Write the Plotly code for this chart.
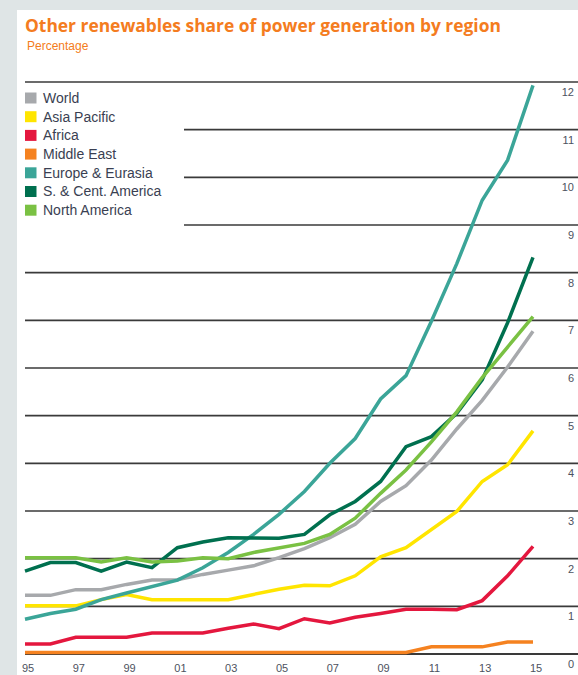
import plotly.graph_objects as go

# ---------------- data ----------------
years = list(range(1995, 2016))
tick_years = list(range(1995, 2016, 2))
tick_labels = ["95", "97", "99", "01", "03", "05", "07", "09", "11", "13", "15"]
y_ticks = list(range(0, 13))

series_names = ["World", "Asia Pacific", "Africa", "Middle East",
                "Europe & Eurasia", "S. & Cent. America", "North America"]
series_colors = ["#a7a9ac", "#ffe500", "#e4173e", "#f58220",
                 "#3ba598", "#00704f", "#7ac143"]

world = [1.23, 1.23, 1.35, 1.35, 1.46, 1.55, 1.56, 1.67, 1.76, 1.85, 2.02,
         2.21, 2.44, 2.72, 3.20, 3.53, 4.07, 4.72, 5.32, 6.02, 6.77]
asia_pacific = [1.01, 1.01, 1.01, 1.14, 1.25, 1.14, 1.14, 1.14, 1.14, 1.25, 1.36,
                1.44, 1.43, 1.64, 2.04, 2.23, 2.61, 2.99, 3.62, 3.97, 4.68]
africa = [0.21, 0.21, 0.35, 0.35, 0.35, 0.44, 0.44, 0.44, 0.54, 0.63, 0.53,
          0.74, 0.65, 0.77, 0.85, 0.94, 0.94, 0.93, 1.12, 1.64, 2.26]
middle_east = [0.03, 0.03, 0.03, 0.03, 0.03, 0.03, 0.03, 0.03, 0.03, 0.03, 0.03,
               0.03, 0.03, 0.03, 0.03, 0.03, 0.15, 0.15, 0.15, 0.25, 0.25]
europe_eurasia = [0.73, 0.85, 0.94, 1.14, 1.28, 1.42, 1.55, 1.81, 2.13, 2.51, 2.93,
                  3.41, 4.00, 4.52, 5.35, 5.84, 6.98, 8.19, 9.52, 10.36, 11.93]
s_cent_america = [1.74, 1.92, 1.92, 1.74, 1.93, 1.81, 2.23, 2.35, 2.44, 2.44, 2.43,
                  2.51, 2.92, 3.20, 3.62, 4.35, 4.56, 5.05, 5.75, 6.95, 8.32]
north_america = [2.02, 2.02, 2.02, 1.93, 2.02, 1.93, 1.95, 2.02, 2.00, 2.13, 2.22,
                 2.32, 2.51, 2.85, 3.37, 3.86, 4.45, 5.08, 5.80, 6.45, 7.08]

series_values = [world, asia_pacific, africa, middle_east,
                 europe_eurasia, s_cent_america, north_america]

# ---------------- layout constants ----------------
W, H = 578, 675
ML, MR, MT, MB = 22, 0, 60, 15
PW, PH = W - ML - MR, H - MT - MB
ORANGE = "#f47c20"
GRID = "#3a3a3a"
TXT = "#3a3f52"
FONT = "Liberation Sans, Arial, sans-serif"


def px_x(px):
    return (px - ML) / PW


def px_y(py):
    return (H - MB - py) / PH


fig = go.Figure()
for name, color, vals in zip(series_names, series_colors, series_values):
    fig.add_trace(go.Scatter(x=years, y=vals, mode="lines", name=name,
                             line=dict(color=color, width=3.5),
                             showlegend=False, hoverinfo="skip"))

shapes = []
# white panel over patterned page background
shapes.append(dict(type="rect", xref="paper", yref="paper",
                   x0=px_x(17), x1=1.0, y0=px_y(675), y1=px_y(10),
                   fillcolor="white", line=dict(width=0), layer="below"))
# horizontal gridlines (some shortened next to the legend)
for v in y_ticks:
    x0 = px_x(184) if v in (9, 10, 11) else px_x(25)
    shapes.append(dict(type="line", xref="paper", yref="y",
                       x0=x0, x1=1.0, y0=v, y1=v,
                       line=dict(color=GRID, width=2 if v == 0 else 1.7),
                       layer="below"))

annotations = []
# subtitle
annotations.append(dict(text="Percentage", xref="paper", yref="paper",
                        x=px_x(24.5), y=px_y(46), xanchor="left", yanchor="middle",
                        showarrow=False, font=dict(size=12, color=ORANGE, family=FONT)))
# manual legend (square swatches)
for i, (name, color) in enumerate(zip(series_names, series_colors)):
    cy = 98 + i * 18.7
    shapes.append(dict(type="rect", xref="paper", yref="paper",
                       x0=px_x(25), x1=px_x(36.5), y0=px_y(cy + 5.5), y1=px_y(cy - 5.5),
                       fillcolor=color, line=dict(width=0)))
    annotations.append(dict(text=name, xref="paper", yref="paper",
                            x=px_x(41), y=px_y(cy), xanchor="left", yanchor="middle",
                            showarrow=False,
                            font=dict(size=14, color=TXT, family=FONT)))

fig.update_layout(
    width=W, height=H,
    margin=dict(l=ML, r=MR, t=MT, b=MB),
    paper_bgcolor="#dfe5e6",
    plot_bgcolor="white",
    showlegend=False,
    title=dict(text="<b>Other renewables share of power generation by region</b>",
               xref="container", yref="container",
               x=25 / W, y=1 - 26 / H, xanchor="left", yanchor="middle",
               font=dict(size=17.4, color=ORANGE,
                         family="Open Sans, Liberation Sans, Arial, sans-serif")),
    xaxis=dict(range=[1995 - 3 / 25.4, 1995 + (W - MR - 25) / 25.4],
               tickvals=tick_years, ticktext=tick_labels,
               ticklabelshift=3, ticklabelstandoff=0,
               showgrid=False, zeroline=False, showline=False, ticks="",
               tickfont=dict(size=11, color="#4d5260", family=FONT)),
    yaxis=dict(range=[-(660 - 654) / 47.67, 12 + (82 - 60) / 47.67],
               side="right", tickvals=y_ticks,
               ticklabelposition="inside", ticklabelshift=10,
               ticklabelstandoff=1, ticklabeloverflow="allow",
               showgrid=False, zeroline=False, showline=False, ticks="",
               tickfont=dict(size=11, color="#4d5260", family=FONT)),
    shapes=shapes,
    annotations=annotations,
)

fig.write_html("out.html")
